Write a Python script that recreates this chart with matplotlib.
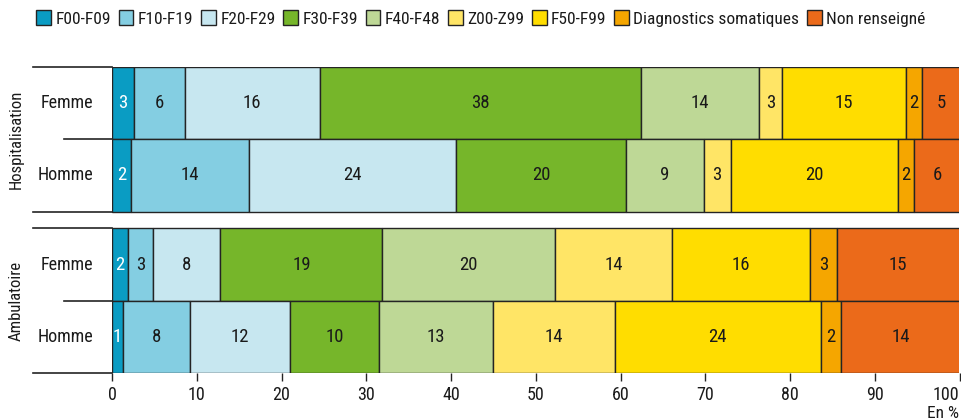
import os
import matplotlib.pyplot as plt
import matplotlib.transforms as mtransforms
from matplotlib import font_manager
from matplotlib.lines import Line2D
from matplotlib.patches import Patch

# categories and colours
categories = ["F00-F09", "F10-F19", "F20-F29", "F30-F39", "F40-F48",
              "Z00-Z99", "F50-F99", "Diagnostics somatiques", "Non renseigné"]
colors = ["#0A9CC3", "#84CEE2", "#C7E7F0", "#76B62A", "#BED896",
          "#FFE566", "#FFDD00", "#F5A600", "#EB6A1A"]

groups = ["Hospitalisation", "Ambulatoire"]
sexes = ["Femme", "Homme"]

# shares in %
hosp_femme = [2.6, 6.0, 15.9, 37.9, 13.9, 2.75, 14.6, 1.9, 4.6]
hosp_homme = [2.2, 14.0, 24.4, 20.1, 9.1, 3.2, 19.8, 1.8, 5.6]
amb_femme = [1.85, 3.0, 7.95, 19.1, 20.4, 13.8, 16.3, 3.1, 14.55]
amb_homme = [1.25, 7.96, 11.8, 10.45, 13.46, 14.44, 24.25, 2.4, 14.05]

rows = [hosp_femme, hosp_homme, amb_femme, amb_homme]


def find_narrow_font():
    # look for a condensed / narrow face installed on the system
    prefs = ["robotocondensed-regular", "opensans_condensed-regular",
             "opensanscondensed-regular", "liberationsansnarrow-regular",
             "dejavusanscondensed.", "notosans-condensed.",
             "notosanscondensed-regular"]
    files = font_manager.findSystemFonts()
    for p in prefs:
        for f in files:
            if p in os.path.basename(f).lower().replace(" ", ""):
                try:
                    font_manager.fontManager.addfont(f)
                    return font_manager.FontProperties(fname=f).get_name()
                except Exception:
                    pass
    return None


narrow = find_narrow_font()
fam = [narrow, 'DejaVu Sans'] if narrow else ['DejaVu Sans']
plt.rcParams['font.family'] = fam
plt.rcParams['font.size'] = 12

W, H = 962, 420
fig = plt.figure(figsize=(W / 100, H / 100), dpi=100)
ax = fig.add_axes([112 / W, 1 - 373 / H, (959.5 - 112) / W, (373 - 67) / H])

edge = "#242424"
dark = "#1a1a1a"
gap = 0.235
y_pos = [0.5, 1.5, 2.5 + gap, 3.5 + gap]

for y, vals in zip(y_pos, rows):
    left = 0
    for i, v in enumerate(vals):
        ax.barh(y, v, left=left, height=1.0, color=colors[i],
                edgecolor=edge, linewidth=1.0)
        txt_color = "white" if i == 0 else dark
        ax.text(left + v / 2, y, str(int(v + 0.5)), ha="center", va="center",
                color=txt_color, fontsize=13.5)
        left += v

ax.set_xlim(0, 100)
ax.set_ylim(4 + gap, 0)
ax.set_yticks([])
ax.set_xticks(range(0, 101, 10))
ax.tick_params(axis="x", direction="out", length=6, width=1, color=edge,
               labelsize=13, pad=3, labelcolor=dark)
for s in ["top", "right", "left", "bottom"]:
    ax.spines[s].set_visible(False)

labels = ax.get_xticklabels()
labels[-1].set_horizontalalignment("right")

# left side lines
tr = mtransforms.blended_transform_factory(fig.transFigure, ax.transData)
for top in [0, 2 + gap]:
    fig.add_artist(Line2D([33 / W, 112 / W], [top, top], transform=tr,
                          color=edge, lw=1.2))
    fig.add_artist(Line2D([64 / W, 112 / W], [top + 1, top + 1], transform=tr,
                          color=edge, lw=1.2))
    fig.add_artist(Line2D([33 / W, 112 / W], [top + 2, top + 2], transform=tr,
                          color=edge, lw=1.2))

for y, sex in zip(y_pos, sexes * 2):
    fig.text(93 / W, y, sex, ha="right", va="center", fontsize=13,
             transform=tr, color=dark)
for k, g in enumerate(groups):
    fig.text(16 / W, 1.0 + k * (2 + gap), g, rotation=90, ha="center",
             va="center", fontsize=12, transform=tr, color=dark)

fig.text(959 / W, 1 - 413 / H, "En %", ha="right", va="center", fontsize=12.5,
         color=dark)

handles = [Patch(facecolor=c, edgecolor=edge, linewidth=1.0) for c in colors]
fig.legend(handles, categories, loc="center", bbox_to_anchor=(0.5, 1 - 18.5 / H),
           ncol=len(categories), frameon=False, fontsize=12.5,
           handlelength=0.85, handleheight=0.95, handletextpad=0.25,
           columnspacing=0.45, borderaxespad=0, labelcolor=dark)

fig.savefig("out.png", dpi=100)
